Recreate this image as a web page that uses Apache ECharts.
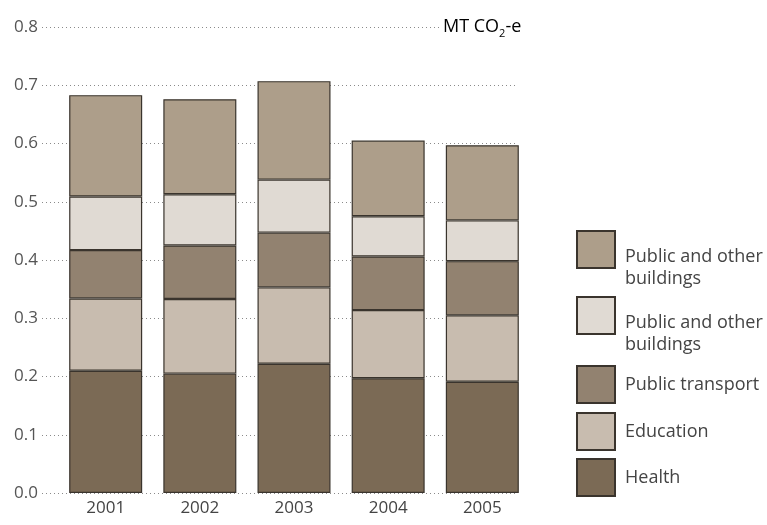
<!DOCTYPE html>
<html>
<head>
<meta charset="utf-8">
<script src="https://cdn.jsdelivr.net/npm/echarts@6/dist/echarts.min.js"></script>
<style>
  html, body { margin: 0; padding: 0; background: #fff; }
  #chart { width: 767px; height: 525px; }
</style>
</head>
<body>
<div id="chart"></div>
<script>
// years on the x axis
const years = ['2001', '2002', '2003', '2004', '2005']
// stacked segments, bottom to top (MT CO2-e)
const health = [0.210, 0.205, 0.222, 0.197, 0.191]
const education = [0.124, 0.128, 0.131, 0.117, 0.114]
const transport = [0.083, 0.092, 0.094, 0.092, 0.093]
const buildingsLight = [0.092, 0.088, 0.091, 0.069, 0.070]
const buildingsTop = [0.174, 0.163, 0.169, 0.130, 0.129]
const yTicks = [0, 0.1, 0.2, 0.3, 0.4, 0.5, 0.6, 0.7, 0.8]

const font = '"Open Sans", "DejaVu Sans", sans-serif'
const border = { borderColor: '#3a342d', borderWidth: 1.2 }

// two series share the same label, a trailing space keeps them apart
const names = ['Health', 'Education', 'Public transport', 'Public and other buildings', 'Public and other buildings ']
const colors = ['#7b6a55', '#c8bcaf', '#928270', '#e0dad3', '#ad9e8a']
const values = [health, education, transport, buildingsLight, buildingsTop]

const series = names.map((name, i) => ({
  name,
  type: 'bar',
  stack: 'total',
  xAxisIndex: 0,
  yAxisIndex: 0,
  barWidth: 73,
  itemStyle: Object.assign({ color: colors[i] }, border),
  data: values[i]
}))

// one legend per entry so they can be placed like the picture
const legendTops = { 4: 231, 3: 297, 2: 365, 1: 412, 0: 458 }
const legends = names.map((name, i) => {
  const twoLine = name.indexOf('buildings') >= 0
  return {
    data: [name],
    left: 576,
    top: twoLine ? legendTops[i] - 8.5 : legendTops[i],
    padding: 0,
    icon: 'rect',
    itemWidth: 38,
    itemHeight: 37,
    selectedMode: false,
    formatter: n => twoLine
      ? '{sp| }\n{t|Public and other}\n{t|buildings}'
      : '{t|' + n + '}',
    textStyle: {
      rich: {
        sp: { fontSize: 10, lineHeight: 36 },
        t: { fontFamily: font, fontSize: 18, color: '#444', lineHeight: 22, padding: [0, 0, 0, 5] }
      }
    }
  }
})

const chart = echarts.init(document.getElementById('chart'))
chart.setOption({
  animation: false,
  backgroundColor: '#fff',
  grid: [
    { left: 58.6, right: 237.6, top: 27, bottom: 32 },
    { left: 42, right: 249, top: 27, bottom: 32 }
  ],
  legend: legends,
  xAxis: [{
    type: 'category',
    gridIndex: 0,
    data: years,
    axisLine: { show: false },
    axisTick: { show: false },
    axisLabel: { fontFamily: font, fontSize: 17, color: '#444', margin: 7 }
  }, {
    type: 'value',
    gridIndex: 1,
    show: false,
    min: 0,
    max: 1
  }],
  yAxis: [{
    type: 'value',
    gridIndex: 0,
    min: 0,
    max: 0.8,
    show: false
  }, {
    type: 'value',
    gridIndex: 1,
    min: yTicks[0],
    max: yTicks[yTicks.length - 1],
    interval: 0.1,
    axisLine: { show: false },
    axisTick: { show: false },
    axisLabel: {
      fontFamily: font,
      fontSize: 17,
      color: '#555',
      margin: 4,
      formatter: v => v.toFixed(1)
    },
    splitLine: { lineStyle: { color: '#8a8a8a', width: 1, type: [1, 3] } }
  }],
  graphic: [{
    type: 'text',
    left: 440,
    top: 15,
    z: 10,
    style: {
      text: '{a|MT CO}{s|2}{a|-e}',
      backgroundColor: '#fff',
      padding: [0, 4, 0, 3],
      rich: {
        a: { fontFamily: font, fontSize: 18, color: '#444', lineHeight: 24 },
        s: { fontFamily: font, fontSize: 11, color: '#444', verticalAlign: 'bottom', lineHeight: 24 }
      }
    }
  }],
  series
})
</script>
</body>
</html>
